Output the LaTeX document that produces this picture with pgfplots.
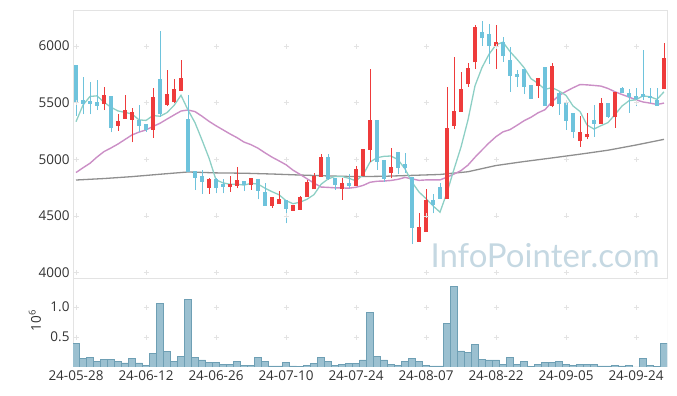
\documentclass[border=0pt]{standalone}
\usepackage{pgfplots}
\pgfplotsset{compat=1.18}
\usepackage{pgfplotstable}
\usepackage{fontspec}
\setmainfont{Open Sans}
\newfontfamily\wmfont{Lato}
\definecolor{upc}{HTML}{EE3B3B}
\definecolor{dnc}{HTML}{6EC3DC}
\definecolor{ma5c}{HTML}{8DCFC5}
\definecolor{ma20c}{HTML}{CB8FC6}
\definecolor{ma60c}{HTML}{8F8F8F}
\definecolor{volf}{HTML}{9BC0D0}
\definecolor{vole}{HTML}{6E9FB4}
\definecolor{framec}{HTML}{E3E3E3}
\definecolor{txt}{HTML}{333333}
\definecolor{wm}{HTML}{C5D8E2}

\pgfplotstableread{
i o h l c
4 5491 5641 5435 5559
6 5297 5397 5250 5332
7 5356 5568 5356 5426
8 5350 5456 5150 5406
11 5262 5629 5191 5544
13 5479 5788 5473 5568
14 5503 5706 5500 5612
15 5606 5876 5606 5706
19 4750 4838 4694 4817
22 4758 4853 4714 4773
23 4767 4929 4744 4809
25 4776 4826 4730 4826
28 4591 4656 4573 4656
29 4606 4724 4606 4641
31 4547 4588 4547 4588
32 4553 4676 4553 4656
33 4665 4817 4665 4788
34 4735 4876 4735 4847
35 4847 5047 4847 5014
38 4738 4832 4641 4782
40 4767 4940 4767 4906
41 4856 5082 4850 5082
42 5082 5797 4979 5338
45 4882 5097 4832 4921
49 4273 4523 4273 4391
50 4361 4735 4361 4632
53 4650 5635 4650 5267
54 5297 5900 5267 5415
55 5421 5768 5421 5612
56 5662 5850 5640 5797
57 5856 6185 5800 6156
60 6003 6185 5797 6029
66 5650 5715 5544 5706
68 5473 5847 5459 5812
72 5164 5382 5112 5229
73 5194 5409 5175 5214
75 5312 5545 5312 5488
77 5376 5585 5280 5585
84 5618 6024 5618 5882
}\upTable

\pgfplotstableread{
i o h l c
0 5826 5826 5385 5508
1 5515 5729 5397 5491
2 5503 5685 5397 5491
3 5497 5700 5435 5473
5 5550 5550 5238 5279
9 5338 5479 5244 5297
10 5303 5310 5244 5256
12 5700 6132 5376 5397
16 5347 5568 4891 4891
17 4891 4891 4729 4838
18 4841 4906 4694 4802
20 4817 4838 4700 4744
21 4773 4824 4700 4758
24 4797 4797 4720 4776
26 4817 4817 4647 4723
27 4706 4788 4591 4591
30 4632 4632 4435 4562
36 5009 5050 4820 4824
37 4824 4824 4729 4773
39 4782 4870 4750 4767
43 5338 5338 4906 4979
44 4985 4985 4803 4826
46 5053 5053 4870 4921
47 4950 5053 4877 4926
48 4838 4838 4250 4397
51 4632 4691 4523 4597
52 4750 4794 4650 4650
58 6115 6223 6003 6068
59 6097 6194 5841 6003
61 6024 6077 5862 5915
62 5868 5994 5597 5738
63 5744 5788 5641 5729
64 5788 5788 5576 5641
65 5647 5647 5535 5535
67 5803 5803 5473 5473
69 5574 5597 5391 5488
70 5494 5494 5259 5341
71 5400 5400 5185 5241
74 5338 5479 5200 5312
76 5488 5488 5365 5376
78 5620 5640 5588 5588
79 5574 5620 5410 5547
80 5547 5630 5467 5532
81 5568 5965 5524 5547
82 5553 5630 5497 5544
83 5515 5630 5473 5473
}\downTable

\pgfplotstableread{
i ma5 ma20
0 5332 4883
1 5479 4925
2 5555 4965
3 5560 5020
4 5504 5068
5 5459 5100
6 5427 5135
7 5414 5175
8 5400 5215
9 5348 5240
10 5343 5259
11 5386 5290
12 5380 5318
13 5412 5355
14 5475 5391
15 5565 5426
16 5435 5435
17 5323 5421
18 5170 5380
19 5011 5335
20 4818 5296
21 4792 5260
22 4779 5224
23 4780 5191
24 4772 5152
25 4788 5129
26 4781 5098
27 4745 5057
28 4714 5019
29 4687 4986
30 4635 4952
31 4608 4904
32 4621 4867
33 4647 4828
34 4688 4790
35 4779 4755
36 4826 4752
37 4849 4748
38 4848 4747
39 4832 4745
40 4810 4753
41 4862 4769
42 4975 4797
43 5014 4806
44 5026 4808
45 5029 4813
46 4997 4823
47 4915 4840
48 4798 4827
49 4711 4814
50 4653 4818
51 4589 4818
52 4533 4818
53 4707 4842
54 4912 4870
55 5108 4900
56 5348 4949
57 5649 5018
58 5810 5082
59 5927 5144
60 6011 5200
61 6034 5242
62 5951 5262
63 5883 5300
64 5810 5340
65 5712 5371
66 5670 5410
67 5617 5438
68 5633 5508
69 5603 5563
70 5564 5599
71 5471 5631
72 5422 5660
73 5303 5657
74 5267 5652
75 5297 5646
76 5324 5625
77 5395 5596
78 5470 5572
79 5517 5549
80 5526 5525
81 5560 5506
82 5552 5496
83 5529 5484
84 5596 5496
}\maTable

\pgfplotstableread{
i ma60
0 4817
4 4830
8 4847
12 4868
16 4888
20 4880
24 4877
28 4870
32 4861
36 4853
40 4847
44 4850
48 4858
52 4866
56 4890
60 4945
64 4980
68 5012
72 5045
76 5080
80 5126
84 5176
}\longTable

\pgfplotstableread{
i v
0 0.394
1 0.144
2 0.161
3 0.100
4 0.128
5 0.128
6 0.100
7 0.067
8 0.144
9 0.067
10 0.028
11 0.228
12 1.060
13 0.260
14 0.100
15 0.178
16 1.128
17 0.161
18 0.117
19 0.083
20 0.083
21 0.044
22 0.044
23 0.100
24 0.033
25 0.033
26 0.161
27 0.100
28 0.017
29 0.017
30 0.083
31 0.017
32 0.005
33 0.028
34 0.061
35 0.161
36 0.100
37 0.033
38 0.044
39 0.061
40 0.061
41 0.117
42 0.911
43 0.183
44 0.117
45 0.050
46 0.033
47 0.100
48 0.144
49 0.094
50 0.033
51 0.017
52 0.017
53 0.728
54 1.350
55 0.267
56 0.250
57 0.383
58 0.133
59 0.117
60 0.117
61 0.044
62 0.161
63 0.044
64 0.100
65 0.011
66 0.044
67 0.083
68 0.083
69 0.100
70 0.050
71 0.033
72 0.050
73 0.050
74 0.050
75 0.017
76 0.017
77 0.033
78 0.017
79 0.033
80 0.003
81 0.144
82 0.028
83 0.011
84 0.394
}\volTable

\pgfplotsset{candle/.style 2 args={draw=none, no markers, forget plot,
  error bars/.cd, y dir=plus, y explicit, error mark=none,
  error bar style={draw=#1, line width=#2}}}

\begin{document}
\begin{tikzpicture}
\useasboundingbox (0,0) rectangle (677bp,396bp);
\begin{axis}[
  at={(73bp,118bp)}, anchor=south west,
  width=594bp, height=268bp, scale only axis,
  xmin=-0.43, xmax=84.43, ymin=3952, ymax=6318,
  xtick=\empty,
  ytick={4000,4500,5000,5500,6000},
  axis line style={framec},
  major tick length=0pt,
  ticklabel style={font=\fontsize{13.5bp}{16bp}\selectfont, text=txt},
  y tick label style={/pgf/number format/.cd, 1000 sep={}, assume math mode=true},
]
\node[anchor=base east, font=\wmfont\fontsize{33bp}{40bp}\selectfont, text=wm, inner sep=0pt] at (rel axis cs:0.988,0.041) {InfoPointer.com};
\addplot[only marks, mark=+, mark size=2.5bp, color=framec, forget plot] coordinates {
(0,4000)(10,4000)(20,4000)(30,4000)(40,4000)(50,4000)(60,4000)(70,4000)(80,4000)
(0,4500)(10,4500)(20,4500)(30,4500)(40,4500)(50,4500)(60,4500)(70,4500)(80,4500)
(0,5000)(10,5000)(20,5000)(30,5000)(40,5000)(50,5000)(60,5000)(70,5000)(80,5000)
(0,5500)(10,5500)(20,5500)(30,5500)(40,5500)(50,5500)(60,5500)(70,5500)(80,5500)
(0,6000)(10,6000)(20,6000)(30,6000)(40,6000)(50,6000)(60,6000)(70,6000)(80,6000)
};
\addplot[ma60c, line width=1.3bp, no marks] table[x=i, y=ma60] {\longTable};
\addplot[ma20c, line width=1.4bp, no marks] table[x=i, y=ma20] {\maTable};
\addplot[ma5c, line width=1.3bp, no marks] table[x=i, y=ma5] {\maTable};
% wicks
\addplot[candle={upc}{1bp}]
  table[x=i, y=l, y error plus expr=\thisrow{h}-\thisrow{l}] {\upTable};
\addplot[candle={dnc}{1bp}]
  table[x=i, y=l, y error plus expr=\thisrow{h}-\thisrow{l}] {\downTable};
% bodies
\addplot[candle={upc}{4.6bp}]
  table[x=i, y=o, y error plus expr=\thisrow{c}-\thisrow{o}+8] {\upTable};
\addplot[candle={dnc}{4.6bp}]
  table[x=i, y=c, y error plus expr=\thisrow{o}-\thisrow{c}+8] {\downTable};
\end{axis}

\begin{axis}[
  at={(73bp,29bp)}, anchor=south west,
  width=594bp, height=88bp, scale only axis,
  xmin=-0.43, xmax=84.43, ymin=0, ymax=1.467,
  xtick={0,10,20,30,40,50,60,70,80},
  xticklabels={24-05-28,24-06-12,24-06-26,24-07-10,24-07-24,24-08-07,24-08-22,24-09-05,24-09-24},
  ytick={0.5,1.0},
  axis line style={draw=none},
  major tick length=0pt,
  ticklabel style={font=\fontsize{13.5bp}{16bp}\selectfont, text=txt},
  y tick label style={/pgf/number format/.cd, fixed, fixed zerofill, precision=1, assume math mode=true},
  ylabel={10\textsuperscript{6}},
  ylabel style={at={(rel axis cs:-0.064,0.53)}, anchor=center, font=\fontsize{13.5bp}{16bp}\selectfont, text=txt},
]
\draw[framec] (rel axis cs:0,0) -- (rel axis cs:0,1);
\draw[framec] (rel axis cs:1,0) -- (rel axis cs:1,1);
\addplot[only marks, mark=+, mark size=2.5bp, color=framec, forget plot] coordinates {
(0,0.5)(10,0.5)(20,0.5)(30,0.5)(40,0.5)(50,0.5)(60,0.5)(70,0.5)(80,0.5)
(0,1.0)(10,1.0)(20,1.0)(30,1.0)(40,1.0)(50,1.0)(60,1.0)(70,1.0)(80,1.0)
};
\addplot[ybar, bar width=7bp, fill=volf, draw=vole, line width=0.6bp] table[x=i, y=v] {\volTable};
\end{axis}
\end{tikzpicture}
\end{document}
